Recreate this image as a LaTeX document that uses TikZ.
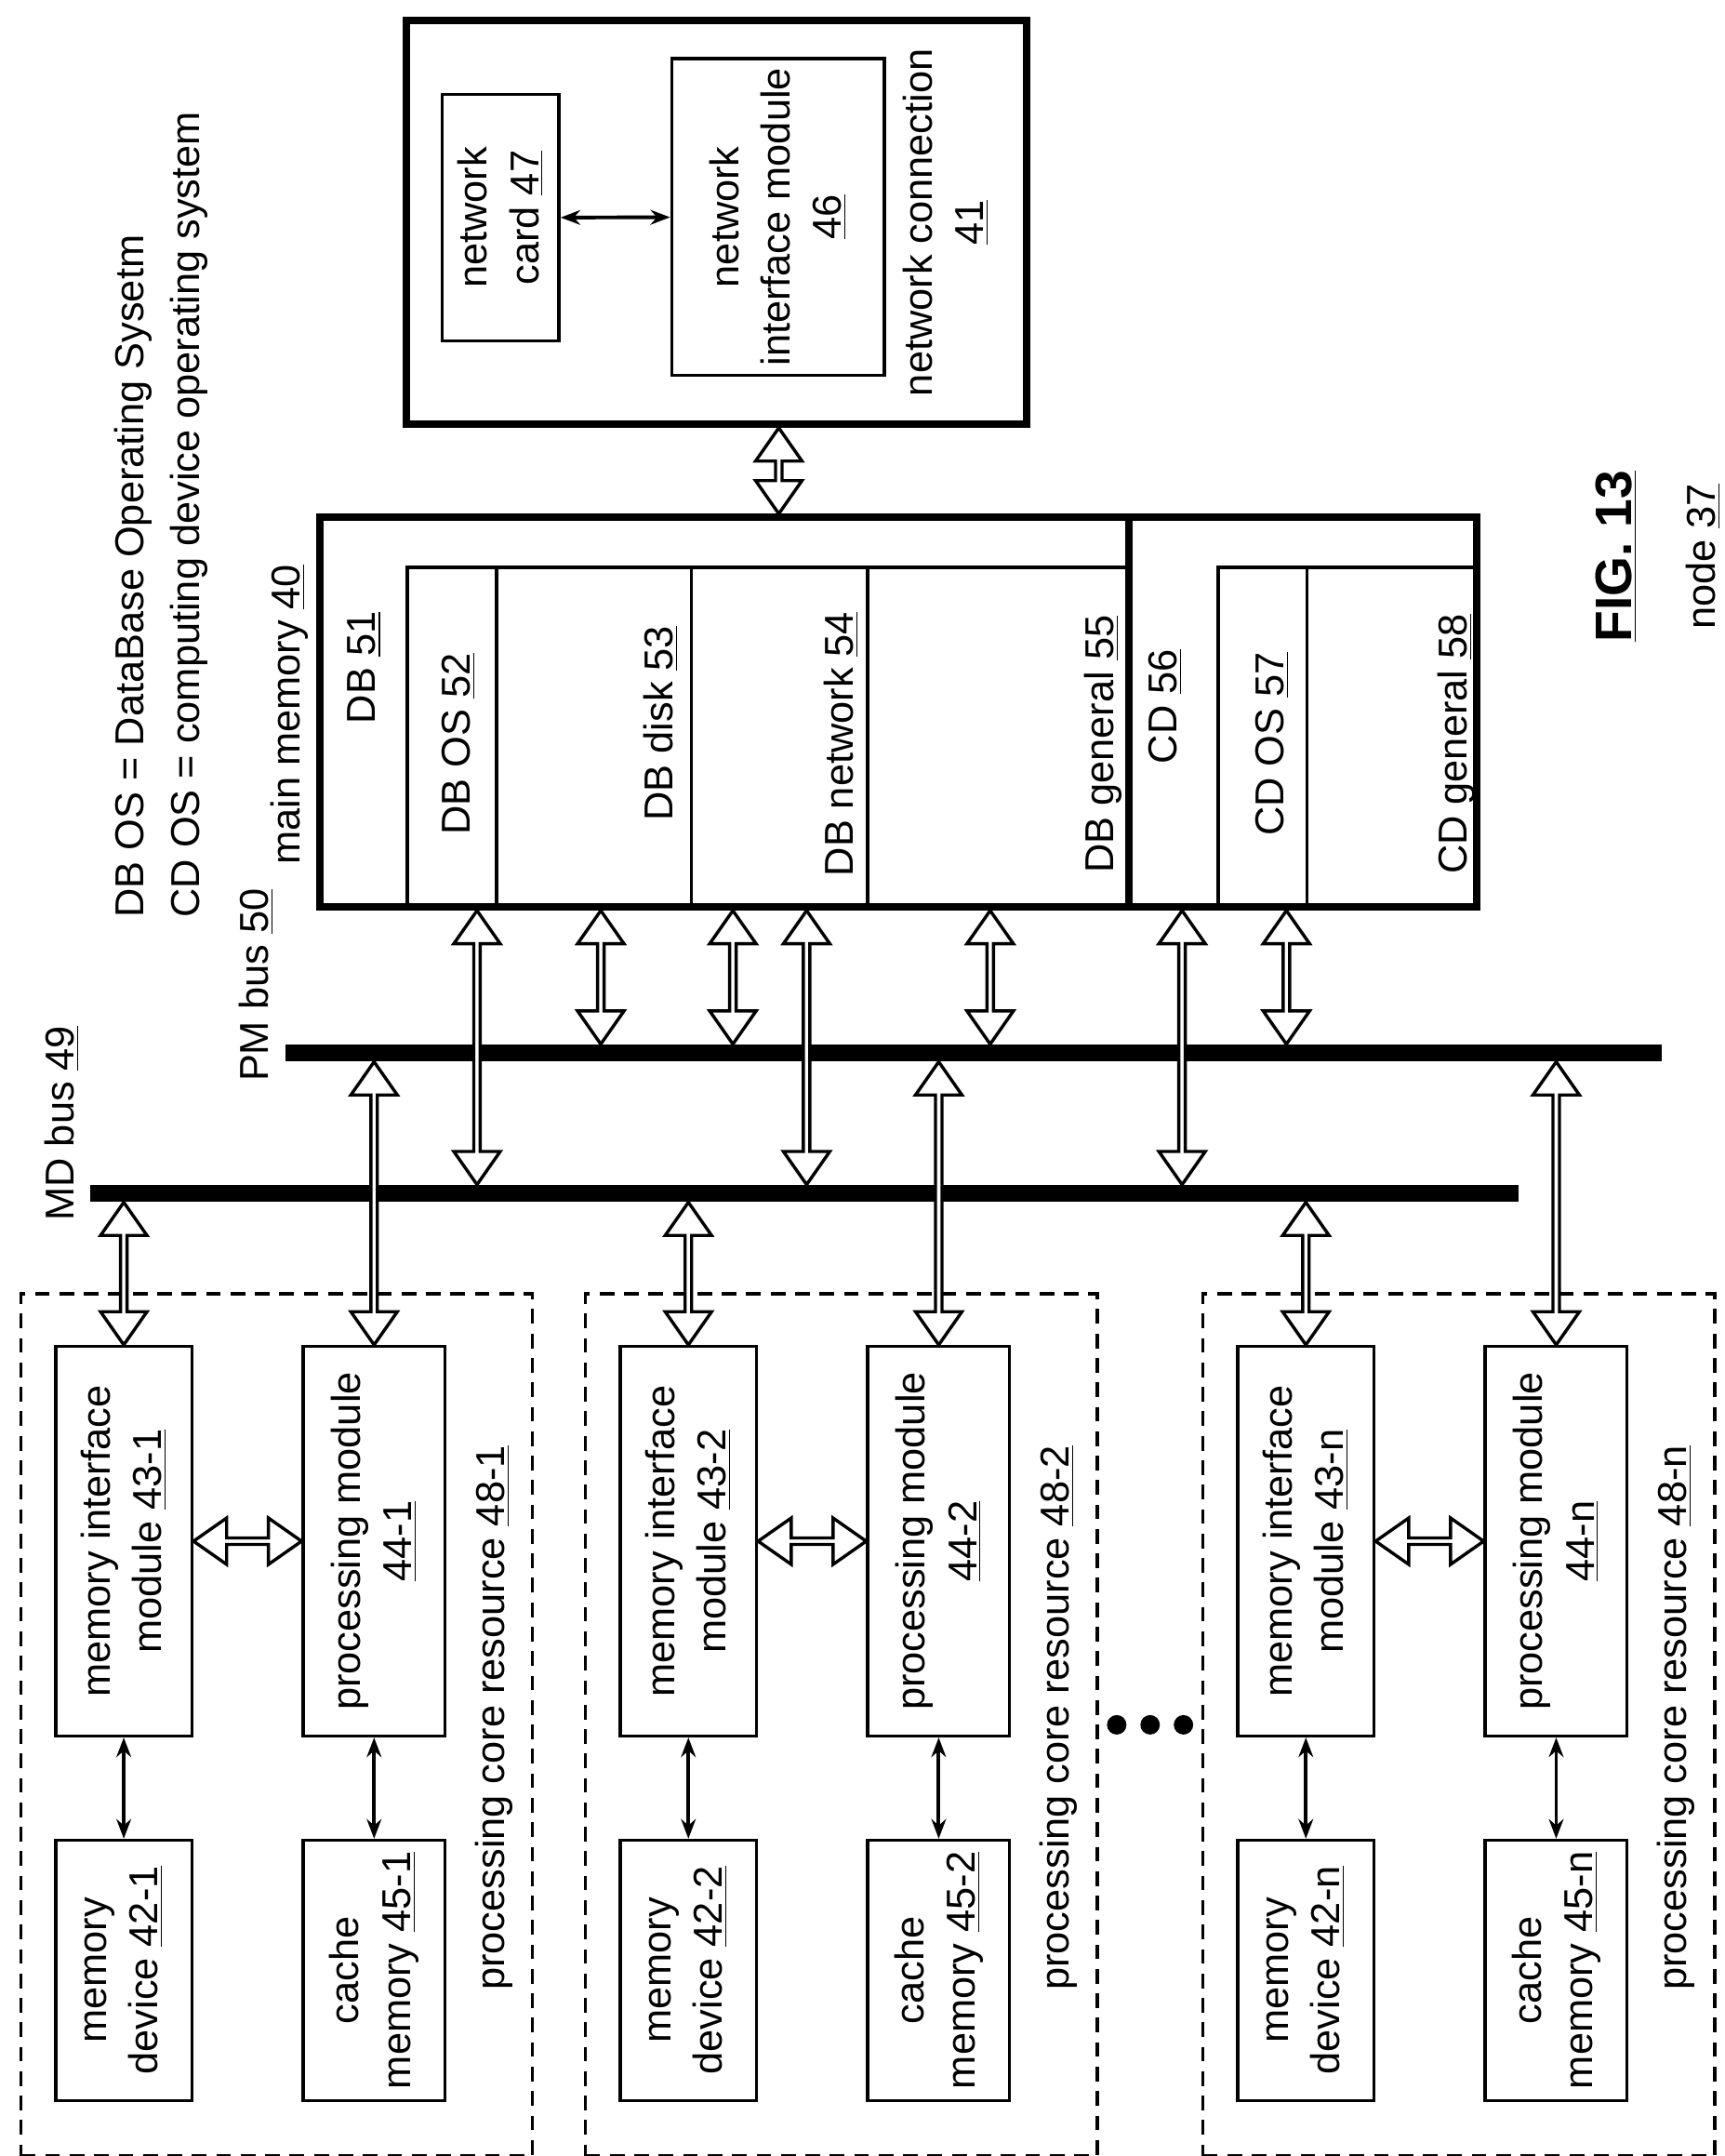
\documentclass[tikz,border=0pt]{standalone}
\usepackage{fontspec}
\setmainfont{Liberation Sans}
\usetikzlibrary{arrows.meta,fit,calc,shapes.arrows}
\tikzset{
  box/.style={draw, line width=1.3pt, inner sep=0pt},
  heavy/.style={draw, line width=3pt, inner sep=0pt},
  txt/.style={label={[lbl, align=center]center:#1}},
  hollow/.style={to path={let \p1=(\tikztostart), \p2=(\tikztotarget),
      \n1={veclen(\x2-\x1,\y2-\y1)}, \n2={atan2(\y2-\y1,\x2-\x1)} in
      node[double arrow, draw, line width=1.3pt, fill=white, inner sep=0pt,
        minimum width=19pt, double arrow head extend=4pt, double arrow tip angle=70,
        minimum height=\n1, rotate=\n2] at ($(\tikztostart)!.5!(\tikztotarget)$) {}}},
  slim/.style={line width=1.5pt, {Stealth[length=8pt]}-{Stealth[length=8pt]}},
  bus/.style={fill=black, inner sep=0pt},
  lbl/.style={rotate=90, inner sep=0pt}
}
\begin{document}
\begin{tikzpicture}[x=0.02cm, y=-0.02cm, font=\fontsize{16.5}{21}\selectfont]
  \useasboundingbox (0,0) rectangle (1240,1550);

  % legend
  \node[lbl, anchor=south west] at (110,660) {DB OS = DataBase Operating Sysetm};
  \node[lbl, anchor=south west] at (150,660) {CD OS = computing device operating system};

  % network connection
  \node[heavy, fit={(292,15) (738,305)}] (nc) {};
  \node[box, fit={(318,68) (402,245)}, txt={network\\card \underline{47}}] (card) {};
  \node[box, fit={(483,42) (636,270)}, txt={network\\interface module\\\underline{46}}] (nim) {};
  \node[lbl, align=center] at (680,160) {network connection\\\underline{41}};
  \draw[slim] (card) -- (nim);

  % main memory
  \node[heavy, fit={(230,372) (1062,652)}] (mm) {};
  \draw[line width=3pt] (812,372) -- (812,652);
  \node[lbl, anchor=south west] at (222,622) {main memory \underline{40}};
  \node[box, fit={(293,408) (812,652)}] (db) {};
  \node[box, fit={(876,408) (1062,652)}] (cd) {};
  \draw[line width=1.3pt] (357,408) -- (357,652) (497,408) -- (497,652) (624,408) -- (624,652)
    (940,408) -- (940,652);
  \node[lbl] at (262,480) {DB \underline{51}};
  \node[lbl] at (330,535) {DB OS \underline{52}};
  \node[lbl] at (475,520) {DB disk \underline{53}};
  \node[lbl] at (605,535) {DB network \underline{54}};
  \node[lbl] at (793,535) {DB general \underline{55}};
  \node[lbl] at (838,508) {CD \underline{56}};
  \node[lbl] at (915,535) {CD OS \underline{57}};
  \node[lbl] at (1047,535) {CD general \underline{58}};
  \draw[hollow] (nc.south -| 560,0) to (mm.north -| 560,0);

  % buses
  \node[bus, fit={(205,751) (1195,763)}] (pmbus) {};
  \node[bus, fit={(65,852) (1092,864)}] (mdbus) {};
  \node[lbl, anchor=south west] at (197,778) {PM bus \underline{50}};
  \node[lbl, anchor=south west] at (57,878) {MD bus \underline{49}};

  \foreach \xp in {432,527,712,925}
    \draw[hollow] (mm.south -| \xp,0) to (pmbus.north -| \xp,0);
  \foreach \xp in {343,580,850}
    \draw[hollow] (mm.south -| \xp,0) to (mdbus.north -| \xp,0);

  % processing core resources
  \foreach \dx/\k [count=\i] in {0/1,406/2,850/n} {
    \node[draw, dash pattern=on 6pt off 4pt, line width=1.3pt, inner sep=0pt, fit={(15+\dx,930) (383+\dx,1550)}] (pcr\i) {};
    \node[box, fit={(40+\dx,968) (138+\dx,1248)}, txt={memory interface\\module \underline{43-\k}}] (mim\i) {};
    \node[box, fit={(218+\dx,968) (320+\dx,1248)}, txt={processing module\\\underline{44-\k}}] (pmod\i) {};
    \node[box, fit={(40+\dx,1323) (138+\dx,1510)}, txt={memory\\device \underline{42-\k}}] (mdev\i) {};
    \node[box, fit={(218+\dx,1323) (320+\dx,1510)}, txt={cache\\memory \underline{45-\k}}] (cache\i) {};
    \node[lbl] at (355+\dx,1235) {processing core resource \underline{48-\k}};
    \draw[hollow] (mim\i.east) to (pmod\i.west);
    \draw[slim] (mim\i) -- (mdev\i);
    \draw[slim] (pmod\i) -- (cache\i);
    \draw[hollow] (mdbus.south -| mim\i.north) to (mim\i.north);
    \draw[hollow] (pmbus.south -| pmod\i.north) to (pmod\i.north);
  }

  % ellipsis
  \foreach \xp in {803,827,851}
    \fill (\xp,1240) circle (7);

  % caption
  \node[lbl, font=\fontsize{21}{26}\selectfont\bfseries] at (1162,400) {\underline{FIG. 13}};
  \node[lbl] at (1225,400) {node \underline{37}};
\end{tikzpicture}
\end{document}
